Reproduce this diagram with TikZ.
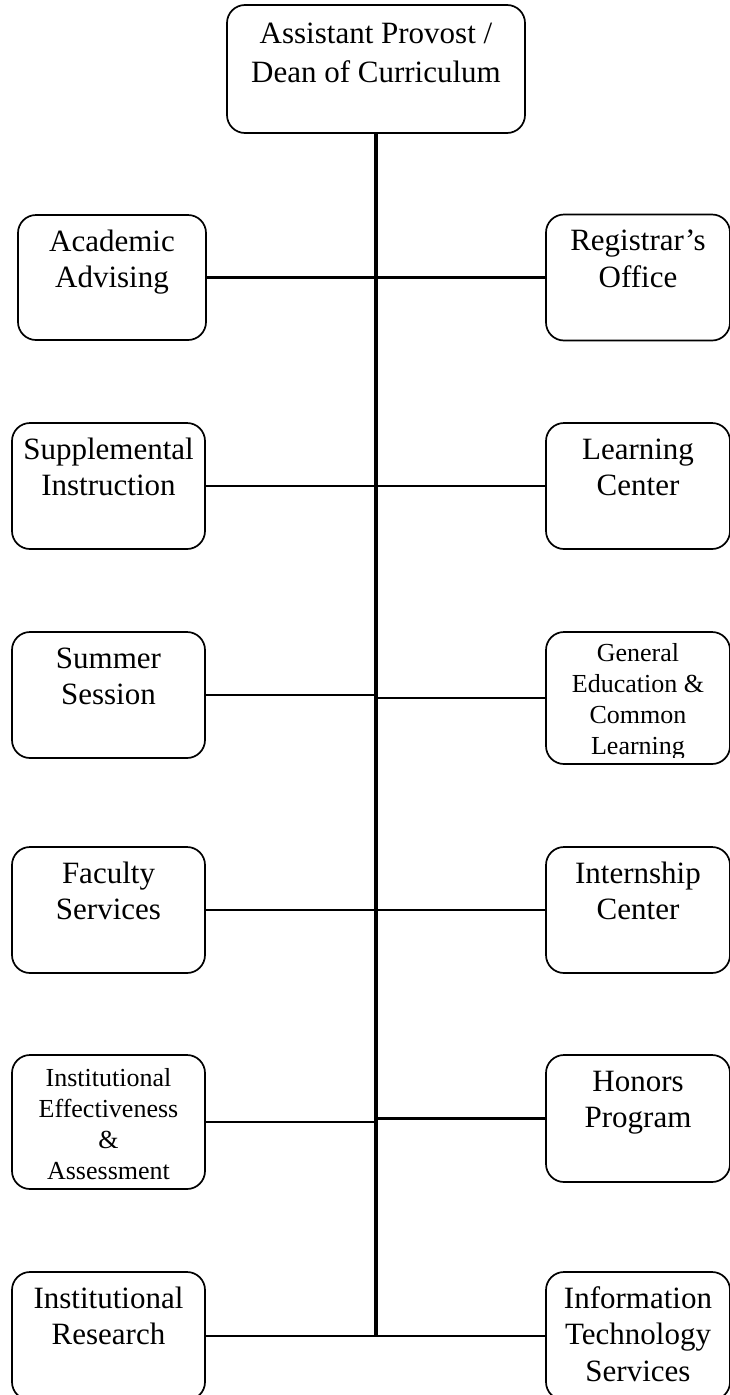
\documentclass[tikz,border=0pt]{standalone}
\usepackage{fontspec}
\setmainfont{Liberation Serif}
\usepackage{tikz}

\newcommand{\largetext}{\fontsize{31}{36.5}\selectfont}
\newcommand{\headtext}{\fontsize{31}{39}\selectfont}
\newcommand{\smalltext}{\fontsize{26}{31}\selectfont}

\begin{document}
\begin{tikzpicture}[x=1pt, y=-1pt,
		unit/.style={draw, rounded corners=18pt, line width=1.7pt, inner sep=0pt},
		leftunit/.style={unit, minimum width=193pt, minimum height=126pt},
		rightunit/.style={unit, minimum width=184pt, minimum height=126pt},
		caption/.style={anchor=north, inner sep=0pt, align=center, font=\largetext},
		smallcaption/.style={caption, font=\smalltext},
		spine/.style={line width=3.8pt},
		link/.style={line width=2.7pt}]
	\useasboundingbox (0,0) rectangle (730,1395);

	\node[unit, minimum width=298pt, minimum height=128pt] (dean) at (376,69) {};
	\node[caption, font=\headtext] (dean-txt) at ([yshift=-11.7pt]dean.north) {\strut Assistant Provost /\\Dean of Curriculum};

	% left column
	\node[leftunit, minimum width=188pt, minimum height=125pt] (acad) at (112,277.5) {};
	\node[leftunit] (supp) at (108.5,486) {};
	\node[leftunit] (summer) at (108.5,695) {};
	\node[leftunit] (faculty) at (108.5,910) {};
	\node[leftunit, minimum height=134pt] (effect) at (108.5,1122) {};
	\node[leftunit, minimum height=128pt] (research) at (108.5,1336) {};

	\node[caption] (acad-txt) at ([yshift=-11.5pt]acad.north) {\strut Academic\\Advising};
	\node[caption] (supp-txt) at ([yshift=-11.5pt]supp.north) {\strut Supplemental\\Instruction};
	\node[caption] (summer-txt) at ([yshift=-11.5pt]summer.north) {\strut Summer\\Session};
	\node[caption] (faculty-txt) at ([yshift=-11.5pt]faculty.north) {\strut Faculty\\Services};
	\node[smallcaption] (effect-txt) at ([yshift=-10.3pt]effect.north) {\strut Institutional\\Effectiveness\\\&\\Assessment};
	\node[caption] (research-txt) at ([yshift=-11.5pt]research.north) {\strut Institutional\\Research};

	% right column
	\node[rightunit] (registrar) at (638,277.5) {};
	\node[rightunit] (learning) at (638,486) {};
	\node[rightunit, minimum height=132pt] (gened) at (638,698) {};
	\node[rightunit] (intern) at (638,910) {};
	\node[rightunit, minimum height=127pt] (honors) at (638,1118.5) {};
	\node[rightunit, minimum height=128pt] (its) at (638,1336) {};

	\node[caption] (registrar-txt) at ([yshift=-11.5pt]registrar.north) {\strut Registrar’s\\Office};
	\node[caption] (learning-txt) at ([yshift=-11.5pt]learning.north) {\strut Learning\\Center};
	\begin{scope}
		\clip (546,632) rectangle (730,757);
		\node[smallcaption] (gened-txt) at ([yshift=-8.3pt]gened.north) {\strut General\\Education \&\\Common\\Learning};
	\end{scope}
	\node[caption] (intern-txt) at ([yshift=-11.5pt]intern.north) {\strut Internship\\Center};
	\node[caption] (honors-txt) at ([yshift=-11.5pt]honors.north) {\strut Honors\\Program};
	\node[caption] (its-txt) at ([yshift=-11.5pt]its.north) {\strut Information\\Technology\\Services};

	\coordinate (spine-end) at (dean.south |- research.east);
	\draw[spine] (dean.south) -- (spine-end);

	\foreach \unit in {acad, supp, summer, faculty, effect, research}
		\draw[link] (\unit.east) -- (\unit.east -| dean.south);
	\foreach \unit in {registrar, learning, gened, intern, honors, its}
		\draw[link] (\unit.west) -- (\unit.west -| dean.south);
\end{tikzpicture}
\end{document}
